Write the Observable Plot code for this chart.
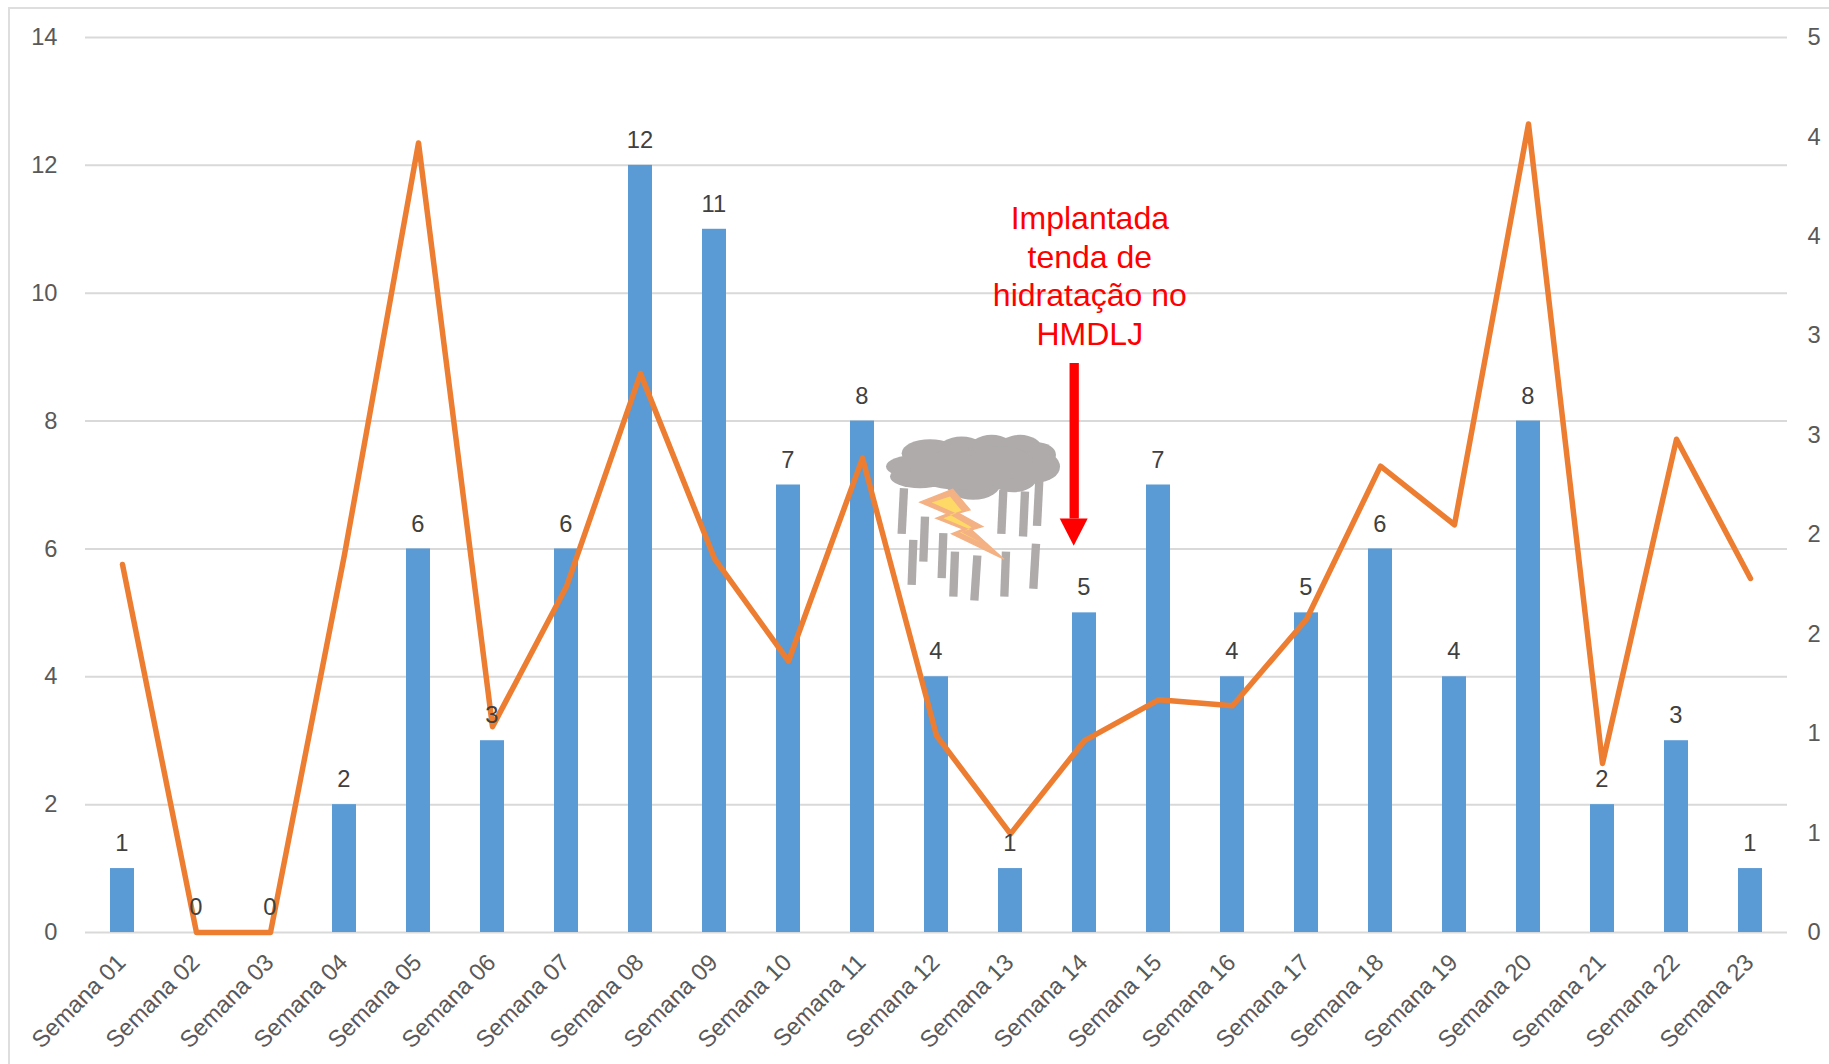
<!DOCTYPE html>
<html>
<head>
<meta charset="utf-8">
<script src="https://cdn.jsdelivr.net/npm/d3@7"></script>
<script src="https://cdn.jsdelivr.net/npm/@observablehq/plot@0.6"></script>
<style>
html,body{margin:0;padding:0;background:#fff;overflow:hidden}
#frame{position:absolute;left:8px;top:7px;right:-5px;bottom:-5px;border-left:2px solid #DEDEDE;border-top:2px solid #DEDEDE;pointer-events:none}
#chart{position:absolute;left:0;top:0}
#chart svg{display:block;background:transparent;max-width:none}
</style>
</head>
<body>
<div id="chart"></div>
<div id="frame"></div>
<script>
const weeks = ["Semana 01","Semana 02","Semana 03","Semana 04","Semana 05","Semana 06","Semana 07","Semana 08","Semana 09","Semana 10","Semana 11","Semana 12","Semana 13","Semana 14","Semana 15","Semana 16","Semana 17","Semana 18","Semana 19","Semana 20","Semana 21","Semana 22","Semana 23"];
const counts = [1,0,0,2,6,3,6,12,11,7,8,4,1,5,7,4,5,6,4,8,2,3,1];
const rates = [1.85,0,0,1.90,3.97,1.035,1.74,2.81,1.88,1.365,2.385,0.99,0.496,0.965,1.17,1.14,1.575,2.345,2.05,4.065,0.85,2.48,1.78];
const leftTicks = [0,2,4,6,8,10,12,14];
const rightTicks = [0,0.5,1,1.5,2,2.5,3,3.5,4,4.5];
const leftMax = 14, rightMax = 4.5;
const toLeft = v => v * leftMax / rightMax;
const note = "Implantada\ntenda de\nhidratação no\nHMDLJ";

const barRows = weeks.map((w,i)=>({w, v:counts[i]}));
const lineRows = weeks.map((w,i)=>({w, v:toLeft(rates[i])}));

const cloudBlobs = [[210,820,85,42],[305,815,75,45],[395,810,70,45],[480,805,65,40],[530,825,58,38],[530,860,70,48],[170,860,92,35],[180,890,90,35],[340,905,85,55],[460,895,70,42],[300,870,150,60],[420,850,100,50]];
const rain = [[132,925,125,1062],[195,1010,190,1145],[160,1080,155,1215],[250,1060,245,1195],[285,1115,280,1250],[352,1127,343,1262],[438,1115,433,1250],[528,1092,520,1227],[430,930,424,1062],[495,935,489,1070],[538,900,531,1038]];
const boltOuter = "180,967 278,928 330,990 295,1000 368,1040 335,1050 432,1138 275,1062 310,1048 228,1015 262,1002";
const boltInner = "215,968 270,950 305,993 270,1005 335,1042 305,1058 362,1088 300,1058 330,1048 250,1015 288,1000";

const bandCenter = (scales, w) => scales.x(w) + scales.scales.x.bandwidth / 2;

function storm(index, scales) {
  const g = d3.create("svg:g");
  const ox = bandCenter(scales, "Semana 13") - 150;
  const oy = scales.y(8) - 240.7;
  const s = g.append("g").attr("transform",`translate(${ox},${oy}) scale(${1/3})`);
  for (const [a,b,c,d] of rain) s.append("line").attr("x1",a).attr("y1",b).attr("x2",c).attr("y2",d).attr("stroke","#AFABAB").attr("stroke-width",25);
  for (const [x,y,rx,ry] of cloudBlobs) s.append("ellipse").attr("cx",x).attr("cy",y).attr("rx",rx).attr("ry",ry).attr("fill","#AFABAB");
  s.append("polygon").attr("points",boltOuter).attr("fill","#F4B183").attr("stroke","#F4B183").attr("stroke-width",4);
  s.append("polygon").attr("points",boltInner).attr("fill","#FFD966");
  return g.node();
}
function arrowHead(index, scales) {
  const cx = bandCenter(scales, "Semana 14") - 10.3;
  const y1 = scales.y(6.47), y2 = scales.y(6.04);
  return d3.create("svg:polygon").attr("points",`${cx-14},${y1} ${cx+14},${y1} ${cx},${y2}`).attr("fill","#FF0000").node();
}

const chart = Plot.plot({
  width: 1829, height: 1064,
  marginLeft: 85, marginRight: 42, marginTop: 37, marginBottom: 132,
  style: {fontFamily:"'Liberation Sans', Arial, sans-serif", fontSize:"23.7px", background:"transparent"},
  x: {type:"band", domain: weeks, paddingInner:0.676, paddingOuter:0.338, align:0.5, label:null},
  y: {domain:[0,leftMax], label:null},
  marks: [
    Plot.ruleY(leftTicks,{stroke:"#D9D9D9",strokeWidth:2}),
    Plot.barY(barRows,{x:"w",y:"v",fill:"#5B9BD5"}),
    Plot.line(lineRows,{x:"w",y:"v",stroke:"#ED7D31",strokeWidth:5.5,strokeLinejoin:"round",strokeLinecap:"round"}),
    Plot.axisY({ticks:leftTicks,tickSize:0,tickPadding:28,color:"#595959",fontSize:23.7,label:null}),
    Plot.axisY({anchor:"right",ticks:rightTicks.map(toLeft),tickSize:0,tickPadding:20,color:"#595959",fontSize:23.7,label:null,
      tickFormat:d=>String(Math.round(d*rightMax/leftMax))}),
    Plot.axisX({ticks:weeks,tickSize:0,tickRotate:-45,tickPadding:26,dx:-0.8,color:"#595959",fontSize:23.7,label:null}),
    storm,
    Plot.ruleX(["Semana 14"],{y1:8.9,y2:6.47,dx:-10.3,stroke:"#FF0000",strokeWidth:9.3}),
    arrowHead,
    Plot.text(barRows,{x:"w",y:"v",text:d=>String(d.v),dy:-25,dx:-0.6,fill:"#404040",fontSize:23.7}),
    Plot.text([note],{x:()=>"Semana 14",y:()=>10.29,text:d=>d,dx:5.3,fill:"#FF0000",fontSize:32,lineHeight:1.2})
  ]
});
document.getElementById("chart").appendChild(chart);
</script>
</body>
</html>
